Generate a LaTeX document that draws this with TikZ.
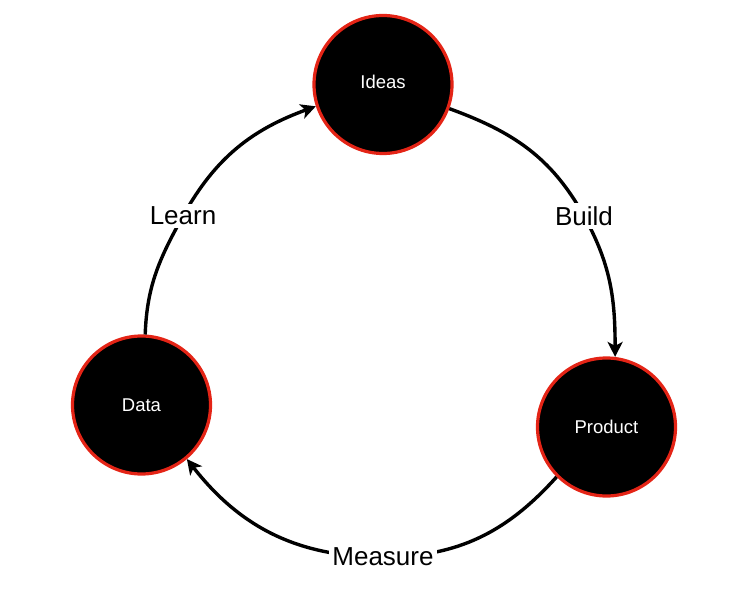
\documentclass[tikz,border=0pt]{standalone}
\usepackage{fontspec}
\setmainfont{Liberation Sans}
\usetikzlibrary{arrows.meta}
\definecolor{ringred}{RGB}{228,36,22}
\tikzset{
  stage/.style={circle, fill=black, draw=ringred, line width=3.2pt, minimum size=138pt, inner sep=0pt,
    text=white, font=\fontsize{18.5}{22}\selectfont},
  flow/.style={line width=3.4pt, -{Stealth[length=15pt,width=15pt,inset=4pt]}},
  steplabel/.style={fill=white, inner sep=3pt, font=\fontsize{26}{30}\selectfont}
}
\begin{document}
\begin{tikzpicture}[x=1pt,y=-1pt]
\useasboundingbox (0,0) rectangle (754,593);
\node[stage] (ideas) at (383,84.5) {\raisebox{6pt}{Ideas}};
\node[stage] (product) at (606.5,427) {Product};
\node[stage] (data) at (141.5,405) {Data};
\coordinate (b) at (584,216);
\coordinate (m) at (383,557);
\coordinate (l) at (183,216);

\draw[flow] (ideas.-20) to[out=-20,in=119] (b) to[out=-61,in=90] (product.83);
\draw[flow] (product.-135) to[out=-132,in=0] (m) to[out=180,in=-52] (data.-50);
\draw[flow] (data.87) to[out=88,in=-119] (l) to[out=61,in=200] (ideas.198);

\node[steplabel] (build) at (b) {Build};
\node[steplabel] (measure) at (m) {Measure};
\node[steplabel] (learn) at (l) {Learn};
\end{tikzpicture}
\end{document}
